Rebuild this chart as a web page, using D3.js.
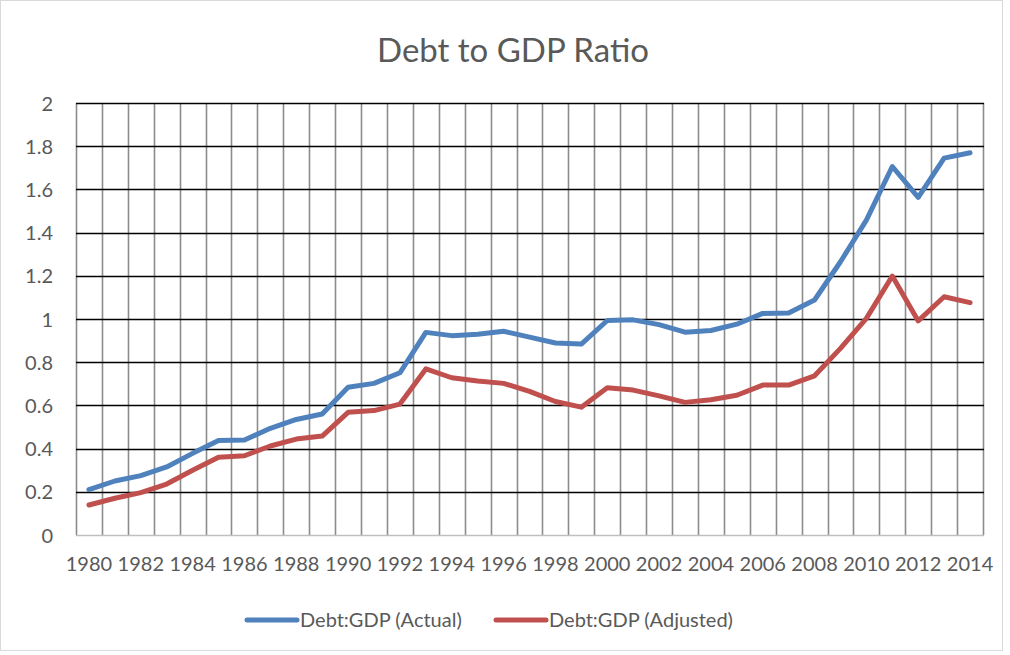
<!DOCTYPE html>
<html><head><meta charset="utf-8">
<script src="https://cdn.jsdelivr.net/npm/d3@7"></script>
<style>
html,body{margin:0;padding:0;background:#fff;}
svg{display:block;}
</style></head>
<body>
<svg id="chart" width="1010" height="655"></svg>
<script>
const years = d3.range(1980, 2015);
const actual = [0.21,0.25,0.275,0.315,0.378,0.437,0.44,0.494,0.535,0.56,
  0.684,0.702,0.751,0.938,0.923,0.929,0.943,0.916,0.889,0.884,
  0.993,0.996,0.974,0.939,0.947,0.976,1.026,1.028,1.088,1.265,
  1.458,1.706,1.563,1.745,1.77];
const adjusted = [0.139,0.17,0.196,0.236,0.30,0.36,0.367,0.412,0.444,0.458,
  0.568,0.576,0.606,0.769,0.728,0.713,0.702,0.665,0.618,0.592,
  0.682,0.671,0.644,0.614,0.626,0.647,0.694,0.694,0.737,0.864,
  1.003,1.199,0.991,1.103,1.076];
const yTicks = [0,0.2,0.4,0.6,0.8,1,1.2,1.4,1.6,1.8,2];
const xTickLabels = years.filter(y => (y - 1980) % 2 === 0);
const seriesNames = ["Debt:GDP (Actual)", "Debt:GDP (Adjusted)"];
const seriesColors = ["#4F81BD", "#C0504D"];

const svg = d3.select("#chart");
const L = 76, R = 983, T = 103, B = 535;
const font = "Lato, 'Open Sans', sans-serif";
const textColor = "#595959";

// chart border
svg.append("rect").attr("x",0.5).attr("y",0.5).attr("width",1002).attr("height",650)
  .attr("fill","#fff").attr("stroke","#d9d9d9");

const x = d3.scaleBand().domain(years).range([L, R]).padding(0);
const y = d3.scaleLinear().domain([0, 2]).range([B, T]);

// vertical gridlines at category boundaries
const bounds = years.map(v => x(v)).concat([R]);
svg.append("g").selectAll("line").data(bounds).join("line")
  .attr("x1", d => Math.round(d) + 0.5).attr("x2", d => Math.round(d) + 0.5)
  .attr("y1", T).attr("y2", B)
  .attr("stroke", "#8c8c8c").attr("stroke-width", 1.6);

// horizontal gridlines
svg.append("g").selectAll("line").data(yTicks.filter(d => d > 0)).join("line")
  .attr("x1", L).attr("x2", R + 1)
  .attr("y1", d => Math.round(y(d)) + 0.5).attr("y2", d => Math.round(y(d)) + 0.5)
  .attr("stroke", "#000").attr("stroke-width", 1.4);

// bottom axis line
svg.append("line").attr("x1", L).attr("x2", R + 1)
  .attr("y1", Math.round(B) + 0.5).attr("y2", Math.round(B) + 0.5)
  .attr("stroke", "#bfbfbf").attr("stroke-width", 1.4);

// y axis labels
const yAxis = d3.axisLeft(y).tickValues(yTicks).tickSize(0).tickPadding(0)
  .tickFormat(d => String(+d.toFixed(1)));
const gy = svg.append("g").attr("transform", `translate(${53},0)`).call(yAxis);
gy.select(".domain").remove();
gy.selectAll("text").attr("font-family", font).attr("font-size", 20)
  .attr("fill", textColor).attr("dy", "0.35em");

// x axis labels
const xAxis = d3.axisBottom(x).tickValues(xTickLabels).tickSize(0).tickPadding(0);
const gx = svg.append("g").attr("transform", `translate(0,${B + 22})`).call(xAxis);
gx.select(".domain").remove();
gx.selectAll("text").attr("font-family", font).attr("font-size", 20)
  .attr("fill", textColor);

// lines
const line = d3.line().x((d, i) => x(years[i]) + x.bandwidth() / 2).y(d => y(d));
[actual, adjusted].forEach((s, k) => {
  svg.append("path").datum(s).attr("d", line)
    .attr("fill", "none").attr("stroke", seriesColors[k])
    .attr("stroke-width", 5).attr("stroke-linejoin", "round").attr("stroke-linecap", "round");
});

// title
svg.append("text").attr("x", 513).attr("y", 62).attr("text-anchor", "middle")
  .attr("font-family", font).attr("font-size", 33).attr("fill", textColor)
  .text("Debt to GDP Ratio");

// legend
const legendItems = [{x: 247}, {x: 496}];
legendItems.forEach((it, k) => {
  svg.append("line").attr("x1", it.x).attr("x2", it.x + 50).attr("y1", 620).attr("y2", 620)
    .attr("stroke", seriesColors[k]).attr("stroke-width", 5).attr("stroke-linecap", "round");
  svg.append("text").attr("x", it.x + 53).attr("y", 627)
    .attr("font-family", font).attr("font-size", 20).attr("fill", textColor)
    .text(seriesNames[k]);
});
</script>
</body></html>
